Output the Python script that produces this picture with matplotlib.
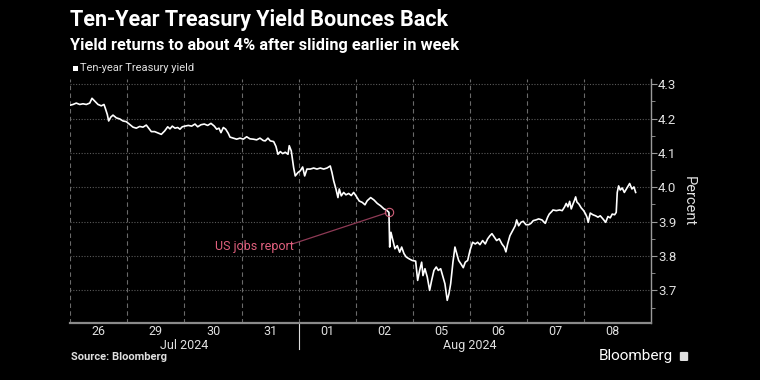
import numpy as np
import matplotlib
matplotlib.use('Agg')
import matplotlib.pyplot as plt
from matplotlib.patches import FancyBboxPatch
import matplotlib.transforms as mtransforms

plt.rcParams['font.family'] = ['Roboto', 'DejaVu Sans']

# position in trading days (0 = start of Jul 26 session), yield in percent
t = [0.00, 0.047, 0.105, 0.165, 0.222, 0.280, 0.340, 0.380, 0.427, 0.485, 0.543, 0.590,
     0.613, 0.648, 0.672, 0.708, 0.748, 0.806, 0.865, 0.923, 0.981, 1.040, 1.098, 1.156,
     1.215, 1.273, 1.331, 1.373, 1.419, 1.478, 1.536, 1.594, 1.653, 1.706, 1.746, 1.786,
     1.834, 1.881, 1.921, 1.961, 2.009, 2.067, 2.126, 2.184, 2.231, 2.289, 2.347, 2.406,
     2.464, 2.522, 2.564, 2.604, 2.639, 2.680, 2.722, 2.767, 2.797, 2.855, 2.914, 2.972,
     3.030, 3.089, 3.147, 3.205, 3.264, 3.322, 3.380, 3.415, 3.462, 3.503, 3.562, 3.602,
     3.637, 3.678, 3.720, 3.765, 3.813, 3.835, 3.870, 3.912, 3.940, 3.988, 4.028, 4.070,
     4.105, 4.145, 4.203, 4.263, 4.320, 4.378, 4.438, 4.496, 4.553, 4.583, 4.613, 4.653,
     4.688, 4.711, 4.746, 4.788, 4.828, 4.876, 4.921, 4.963, 5.004, 5.061, 5.114, 5.161,
     5.201, 5.261, 5.319, 5.377, 5.436, 5.494, 5.534, 5.581, 5.594, 5.616, 5.651, 5.686,
     5.727, 5.769, 5.804, 5.844, 5.884, 5.932, 5.989, 6.049, 6.084, 6.119, 6.154, 6.177,
     6.212, 6.252, 6.294, 6.329, 6.369, 6.410, 6.445, 6.487, 6.527, 6.562, 6.602, 6.632,
     6.662, 6.702, 6.737, 6.802, 6.842, 6.883, 6.918, 6.960, 7.000, 7.047, 7.093, 7.135,
     7.175, 7.222, 7.268, 7.310, 7.350, 7.385, 7.426, 7.467, 7.513, 7.560, 7.601, 7.630,
     7.660, 7.700, 7.748, 7.793, 7.818, 7.853, 7.893, 7.933, 7.981, 8.028, 8.068, 8.109,
     8.156, 8.203, 8.261, 8.319, 8.361, 8.389, 8.436, 8.454, 8.512, 8.571, 8.616, 8.658,
     8.686, 8.716, 8.746, 8.774, 8.804, 8.833, 8.851, 8.874, 8.909, 8.949, 8.991, 9.026,
     9.049, 9.072, 9.107, 9.154, 9.201, 9.242, 9.282, 9.329, 9.377, 9.417, 9.457, 9.492,
     9.534, 9.562, 9.580, 9.604, 9.632, 9.667, 9.704, 9.750, 9.797, 9.837, 9.872, 9.902]
yld = [4.239, 4.241, 4.245, 4.241, 4.243, 4.241, 4.245, 4.259, 4.251, 4.241, 4.237, 4.241,
       4.230, 4.212, 4.193, 4.204, 4.210, 4.202, 4.199, 4.193, 4.191, 4.183, 4.175, 4.172,
       4.177, 4.175, 4.181, 4.172, 4.162, 4.162, 4.158, 4.154, 4.164, 4.176, 4.170, 4.178,
       4.172, 4.174, 4.169, 4.176, 4.178, 4.180, 4.178, 4.184, 4.176, 4.182, 4.184, 4.180,
       4.186, 4.178, 4.169, 4.172, 4.159, 4.174, 4.169, 4.157, 4.146, 4.143, 4.140, 4.143,
       4.140, 4.147, 4.141, 4.140, 4.138, 4.143, 4.136, 4.135, 4.143, 4.135, 4.133, 4.119,
       4.096, 4.104, 4.098, 4.102, 4.096, 4.121, 4.106, 4.057, 4.033, 4.043, 4.048, 4.059,
       4.033, 4.053, 4.053, 4.056, 4.053, 4.056, 4.053, 4.056, 4.062, 4.043, 4.019, 3.995,
       3.970, 3.995, 3.975, 3.985, 3.978, 3.982, 3.976, 3.985, 3.975, 3.960, 3.956, 3.949,
       3.961, 3.970, 3.963, 3.953, 3.946, 3.937, 3.934, 3.927, 3.826, 3.869, 3.845, 3.821,
       3.830, 3.811, 3.826, 3.807, 3.797, 3.792, 3.787, 3.785, 3.729, 3.758, 3.782, 3.743,
       3.763, 3.739, 3.700, 3.729, 3.758, 3.768, 3.758, 3.763, 3.739, 3.719, 3.671, 3.690,
       3.719, 3.782, 3.826, 3.787, 3.777, 3.766, 3.782, 3.787, 3.816, 3.840, 3.835, 3.840,
       3.833, 3.845, 3.835, 3.850, 3.859, 3.865, 3.855, 3.845, 3.850, 3.835, 3.826, 3.812,
       3.835, 3.859, 3.874, 3.888, 3.905, 3.888, 3.898, 3.901, 3.891, 3.891, 3.895, 3.903,
       3.905, 3.908, 3.905, 3.895, 3.913, 3.922, 3.930, 3.934, 3.932, 3.934, 3.932, 3.943,
       3.953, 3.943, 3.959, 3.937, 3.951, 3.963, 3.972, 3.957, 3.951, 3.940, 3.932, 3.922,
       3.913, 3.898, 3.925, 3.920, 3.917, 3.913, 3.917, 3.908, 3.898, 3.915, 3.911, 3.922,
       3.920, 3.927, 3.985, 4.004, 3.992, 3.998, 3.985, 3.998, 4.011, 3.995, 4.001, 3.985]

day_labels = ['26', '29', '30', '31', '01', '02', '05', '06', '07', '08']
month_labels = ['Jul 2024', 'Aug 2024']
month_days = [4, 6]  # number of sessions in each month shown
jobs_report = (5.581, 3.927)

bg = 'black'
fig = plt.figure(figsize=(7.6, 3.8), dpi=100, facecolor=bg)
ax = fig.add_axes([0.0925, 0.150, 0.764, 0.642], facecolor=bg)

ax.plot(t, yld, color='white', lw=1.2, zorder=3)

ax.set_xlim(0, 10.17)
ax.set_ylim(3.605, 4.315)

# grid
for y in np.arange(3.7, 4.31, 0.1):
    ax.axhline(y, color='#5a5a5a', lw=0.8, ls=(0, (1, 1.5)), zorder=1)
for d in range(len(day_labels)):
    ax.axvline(d, color='#6a6a6a', lw=0.8, ls=(0, (4, 3)), zorder=1)

# spines
for s in ['top', 'left']:
    ax.spines[s].set_visible(False)
ax.spines['bottom'].set_color('#8a8a8a')
ax.spines['bottom'].set_linewidth(1.6)
ax.spines['right'].set_color('#9a9a9a')
ax.spines['right'].set_linewidth(1.0)

# x axis
ax.set_xticks(np.arange(len(day_labels)) + 0.5)
ax.set_xticklabels(day_labels, color='#e0e0e0', fontsize=9)
ax.tick_params(axis='x', length=0, pad=1.5)
trans = mtransforms.blended_transform_factory(ax.transData, ax.transAxes)
start = 0
for lab, n in zip(month_labels, month_days):
    ax.text(start + n / 2, -0.092, lab, transform=trans, ha='center', va='center',
            color='#e0e0e0', fontsize=9)
    start += n
ax.plot([month_days[0], month_days[0]], [0, -0.107], transform=trans, color='#dddddd',
        lw=0.8, clip_on=False)

# y axis on right
ax.yaxis.tick_right()
ax.set_yticks(np.arange(3.7, 4.31, 0.1))
ax.set_yticklabels([f'{v:.1f}' for v in np.arange(3.7, 4.31, 0.1)], color='#e0e0e0', fontsize=9.5)
ax.set_yticks(np.arange(3.65, 4.31, 0.1), minor=True)
ax.tick_params(axis='y', which='major', length=4, color='#9a9a9a', pad=1)
ax.tick_params(axis='y', which='minor', length=3, color='#9a9a9a')
ax.yaxis.set_label_position('right')
ax.set_ylabel('Percent', rotation=-90, color='#e0e0e0', fontsize=10.5, labelpad=14)

# annotation
ax.plot([jobs_report[0]], [jobs_report[1]], marker='o', ms=6, mfc='none', mec='#d0607a',
        mew=0.8, zorder=4)
ax.plot([3.87, jobs_report[0] - 0.05], [3.834, jobs_report[1] - 0.002], color='#8e3a55',
        lw=0.9, zorder=2)
ax.text(3.23, 3.828, 'US jobs report', color='#e0607e', fontsize=9, ha='center', va='center')

# titles
fig.text(0.092, 0.947, 'Ten-Year Treasury Yield Bounces Back', color='white',
         fontsize=15.5, fontweight='bold', va='center')
fig.text(0.092, 0.879, 'Yield returns to about 4% after sliding earlier in week', color='white',
         fontsize=11.8, fontweight='bold', va='center')
fig.patches.append(FancyBboxPatch((0.0965, 0.814), 0.0055, 0.012, boxstyle='square,pad=0',
                                  transform=fig.transFigure, fc='white', ec='none'))
fig.text(0.105, 0.820, 'Ten-year Treasury yield', color='#e0e0e0', fontsize=8, va='center')

fig.text(0.094, 0.061, 'Source: Bloomberg', color='#e0e0e0', fontsize=8, fontweight='bold',
         va='center')
fig.text(0.886, 0.063, 'Bloomberg', color='white', fontsize=11, va='center', ha='right')
fig.patches.append(FancyBboxPatch((0.8945, 0.050), 0.011, 0.024,
                                  boxstyle='round,pad=0,rounding_size=0.002',
                                  transform=fig.transFigure, fc='#e0e0e0', ec='none'))

fig.savefig('out.png', dpi=100, facecolor=bg)
